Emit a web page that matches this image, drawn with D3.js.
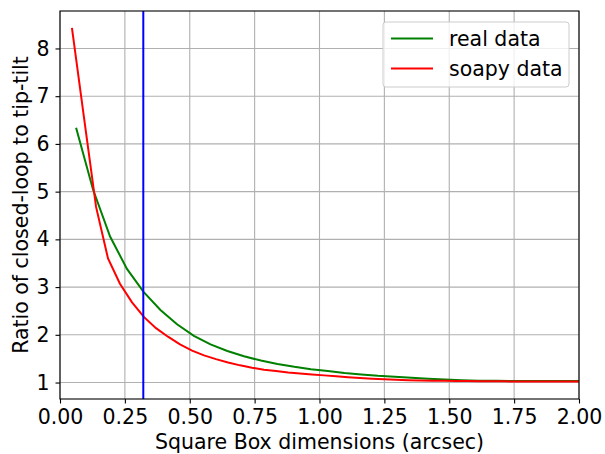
<!DOCTYPE html>
<html>
<head>
<meta charset="utf-8">
<script src="https://cdn.jsdelivr.net/npm/d3@7"></script>
<style>
  body { margin: 0; background: #fff; }
  text { font-family: "DejaVu Sans", sans-serif; }
</style>
</head>
<body>
<div id="wrapper"></div>
<script>
// data
const realX = [0.062, 0.127, 0.193, 0.258, 0.322, 0.387, 0.451, 0.516, 0.580, 0.645,
  0.709, 0.774, 0.838, 0.903, 0.967, 1.032, 1.096, 1.161, 1.225, 1.290,
  1.354, 1.419, 1.483, 1.548, 1.612, 1.677, 1.741, 1.806, 1.870, 1.935, 2.000]
const realY = [6.34, 5.05, 4.06, 3.38, 2.90, 2.52, 2.22, 1.98, 1.80, 1.66,
  1.55, 1.46, 1.39, 1.33, 1.28, 1.24, 1.20, 1.17, 1.14, 1.12,
  1.10, 1.08, 1.065, 1.05, 1.04, 1.035, 1.03, 1.03, 1.03, 1.03, 1.03]

const soapyX = [0.046, 0.0925, 0.139, 0.185, 0.231, 0.2775, 0.324, 0.370, 0.416, 0.4625,
  0.509, 0.555, 0.601, 0.6475, 0.694, 0.740, 0.786, 0.8325, 0.879, 0.925,
  0.971, 1.0175, 1.064, 1.110, 1.156, 1.2025, 1.249, 1.295, 1.341, 1.3875,
  1.434, 1.480, 1.526, 1.5725, 1.619, 1.665, 1.711, 1.7575, 1.804, 1.850,
  1.896, 1.9425, 1.989, 2.035]
const soapyY = [8.43, 6.55, 4.68, 3.60, 3.07, 2.68, 2.37, 2.14, 1.96, 1.80,
  1.67, 1.57, 1.49, 1.42, 1.36, 1.31, 1.27, 1.24, 1.21, 1.19,
  1.17, 1.15, 1.13, 1.11, 1.095, 1.08, 1.07, 1.06, 1.05, 1.045,
  1.04, 1.035, 1.03, 1.03, 1.025, 1.025, 1.025, 1.02, 1.02, 1.02,
  1.02, 1.02, 1.02, 1.02]

const cutoff = 0.321
const xTicks = [0, 0.25, 0.5, 0.75, 1.0, 1.25, 1.5, 1.75, 2.0]
const yTicks = [1, 2, 3, 4, 5, 6, 7, 8]
const seriesNames = ["real data", "soapy data"]
const seriesColors = ["green", "red"]

const fontSize = 20.5

const dimensions = {
  width: 605,
  height: 454,
  margin: { top: 11, right: 26, bottom: 55, left: 60 },
}
dimensions.boundedWidth = dimensions.width - dimensions.margin.left - dimensions.margin.right
dimensions.boundedHeight = dimensions.height - dimensions.margin.top - dimensions.margin.bottom

const svg = d3.select("#wrapper").append("svg")
    .attr("width", dimensions.width)
    .attr("height", dimensions.height)

const bounds = svg.append("g")
    .attr("transform", `translate(${dimensions.margin.left},${dimensions.margin.top})`)

const xScale = d3.scaleLinear()
    .domain([0, 2])
    .range([0, dimensions.boundedWidth])

const yScale = d3.scaleLinear()
    .domain([0.655, 8.785])
    .range([dimensions.boundedHeight, 0])

svg.append("defs").append("clipPath").attr("id", "clip")
  .append("rect")
    .attr("width", dimensions.boundedWidth)
    .attr("height", dimensions.boundedHeight)

// grid
bounds.append("g").selectAll("line")
  .data(xTicks).join("line")
    .attr("x1", d => xScale(d)).attr("x2", d => xScale(d))
    .attr("y1", 0).attr("y2", dimensions.boundedHeight)
    .attr("stroke", "#b0b0b0").attr("stroke-width", 1.1)
bounds.append("g").selectAll("line")
  .data(yTicks).join("line")
    .attr("x1", 0).attr("x2", dimensions.boundedWidth)
    .attr("y1", d => yScale(d)).attr("y2", d => yScale(d))
    .attr("stroke", "#b0b0b0").attr("stroke-width", 1.1)

// lines
const plot = bounds.append("g").attr("clip-path", "url(#clip)")
const lineGen = d3.line()
    .x(d => xScale(d[0]))
    .y(d => yScale(d[1]))

plot.append("path")
    .attr("d", lineGen(d3.zip(realX, realY)))
    .attr("fill", "none").attr("stroke", seriesColors[0]).attr("stroke-width", 2)
plot.append("path")
    .attr("d", lineGen(d3.zip(soapyX, soapyY)))
    .attr("fill", "none").attr("stroke", seriesColors[1]).attr("stroke-width", 2)

plot.append("line")
    .attr("x1", xScale(cutoff)).attr("x2", xScale(cutoff))
    .attr("y1", 0).attr("y2", dimensions.boundedHeight)
    .attr("stroke", "blue").attr("stroke-width", 2)

// axes
const xAxis = bounds.append("g")
    .attr("transform", `translate(0,${dimensions.boundedHeight})`)
    .call(d3.axisBottom(xScale).tickValues(xTicks).tickFormat(d3.format(".2f"))
      .tickSize(4.5).tickPadding(6))
const yAxis = bounds.append("g")
    .call(d3.axisLeft(yScale).tickValues(yTicks).tickFormat(d3.format("d"))
      .tickSize(4.5).tickPadding(6))

bounds.selectAll(".domain").remove()
bounds.selectAll(".tick line").attr("stroke", "#000").attr("stroke-width", 1.1)
bounds.selectAll(".tick text")
    .attr("font-family", "DejaVu Sans").attr("font-size", fontSize).attr("fill", "#000")

bounds.append("rect")
    .attr("width", dimensions.boundedWidth)
    .attr("height", dimensions.boundedHeight)
    .attr("fill", "none").attr("stroke", "#000").attr("stroke-width", 1.1)

xAxis.append("text")
    .attr("x", dimensions.boundedWidth / 2)
    .attr("y", 49.5)
    .attr("text-anchor", "middle")
    .attr("fill", "#000").attr("font-size", fontSize)
    .text("Square Box dimensions (arcsec)")

yAxis.append("text")
    .attr("transform", `translate(-32.5,${dimensions.boundedHeight / 2}) rotate(-90)`)
    .attr("text-anchor", "middle")
    .attr("fill", "#000").attr("font-size", fontSize)
    .text("Ratio of closed-loop to tip-tilt")

// legend
const legend = bounds.append("g")
    .attr("transform", `translate(${dimensions.boundedWidth - 196},11)`)
legend.append("rect")
    .attr("width", 186).attr("height", 65).attr("rx", 3)
    .attr("fill", "#fff").attr("fill-opacity", 0.8)
    .attr("stroke", "#cccccc").attr("stroke-width", 1)
const items = legend.selectAll(".item")
  .data(seriesNames).join("g")
    .attr("transform", (d, i) => `translate(0,${16.5 + i * 30})`)
items.append("line")
    .attr("x1", 8).attr("x2", 50)
    .attr("stroke", (d, i) => seriesColors[i]).attr("stroke-width", 2)
items.append("text")
    .attr("x", 66).attr("y", 7)
    .attr("font-size", fontSize).attr("fill", "#000")
    .text(d => d)
</script>
</body>
</html>
